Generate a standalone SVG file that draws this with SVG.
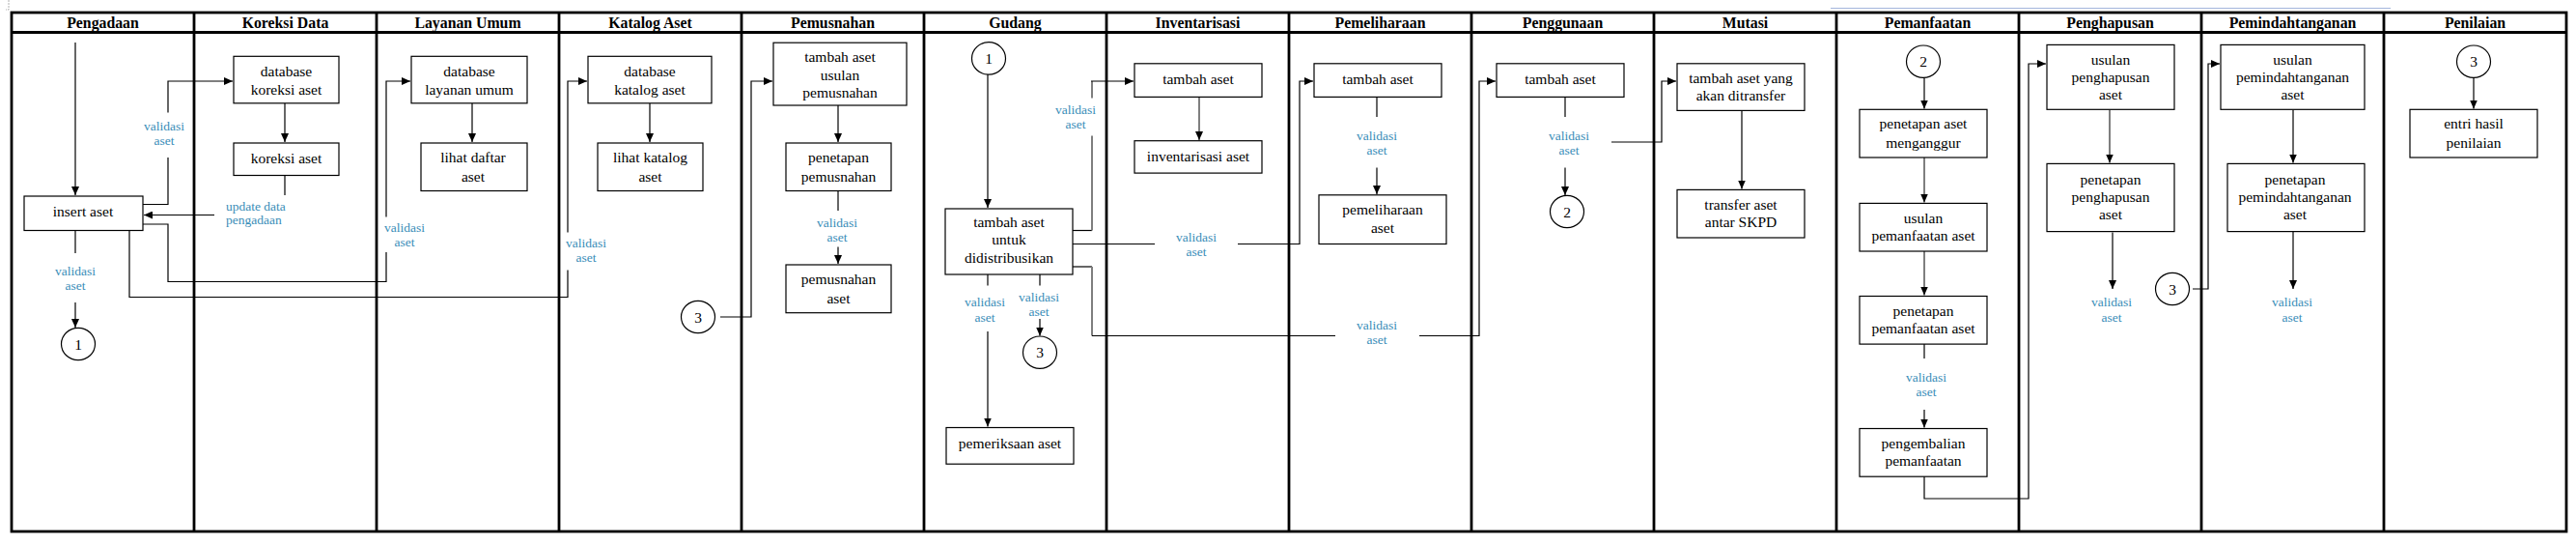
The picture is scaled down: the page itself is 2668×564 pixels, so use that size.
<svg xmlns="http://www.w3.org/2000/svg" width="2668" height="564" viewBox="0 0 2668 564">
<style>
.lane{fill:none;stroke:#000;stroke-width:2.8}
.hd{font-family:"Liberation Serif","Times New Roman",serif;font-weight:bold;font-size:15.8px;text-anchor:middle;fill:#000}
.box{fill:#fff;stroke:#000;stroke-width:1.2}
.t{font-family:"Liberation Serif","Times New Roman",serif;font-size:15.5px;text-anchor:middle;fill:#000}
.lb{font-family:"Liberation Serif","Times New Roman",serif;font-size:13.5px;text-anchor:middle;fill:#3a8db8}
.c{fill:#fff;stroke:#000;stroke-width:1.2}
.ln{fill:none;stroke:#000;stroke-width:1.2}
.gr{fill:none;stroke:#7f7f7f;stroke-width:2}
.ar{marker-end:url(#ah)}
</style>
<defs>
<marker id="ah" markerUnits="userSpaceOnUse" markerWidth="9" markerHeight="8" refX="9" refY="4" orient="auto">
<path d="M0,0 L9,4 L0,8 z" fill="#000"/>
</marker>
</defs>
<rect width="2668" height="564" fill="#fff"/>
<path d="M9 0 V10 H6" fill="none" stroke="#b0b0b0" stroke-width="1" stroke-dasharray="2 1"/>
<path d="M1896 8.5 H2476" stroke="#a4b6dc" stroke-width="1.2" fill="none"/>
<g id="lanes">
<rect class="lane" x="12" y="13" width="2646" height="537"/>
<path class="lane" d="M12 33.5 H2658 M201 13 V550 M390 13 V550 M579 13 V550 M768 13 V550 M957 13 V550 M1146 13 V550 M1335 13 V550 M1524 13 V550 M1713 13 V550 M1902 13 V550 M2091 13 V550 M2280 13 V550 M2469 13 V550"/>
<text class="hd" x="106.5" y="29">Pengadaan</text>
<text class="hd" x="295.5" y="29">Koreksi Data</text>
<text class="hd" x="484.5" y="29">Layanan Umum</text>
<text class="hd" x="673.5" y="29">Katalog Aset</text>
<text class="hd" x="862.5" y="29">Pemusnahan</text>
<text class="hd" x="1051.5" y="29">Gudang</text>
<text class="hd" x="1240.5" y="29">Inventarisasi</text>
<text class="hd" x="1429.5" y="29">Pemeliharaan</text>
<text class="hd" x="1618.5" y="29">Penggunaan</text>
<text class="hd" x="1807.5" y="29">Mutasi</text>
<text class="hd" x="1996.5" y="29">Pemanfaatan</text>
<text class="hd" x="2185.5" y="29">Penghapusan</text>
<text class="hd" x="2374.5" y="29">Pemindahtanganan</text>
<text class="hd" x="2563.5" y="29">Penilaian</text>
</g>
<g id="connectors">
<path class="ln ar" d="M78 44 V202"/>
<path class="ln" d="M148 211.5 H174 V163"/>
<path class="ln ar" d="M174 116.5 V84 H241"/>
<path class="ln ar" d="M295 107 V147"/>
<path class="ln" d="M295 181.5 V202"/>
<path class="ln ar" d="M222 222.5 H149"/>
<path class="ln" d="M148 232 H174 V291.5 H400 V261"/>
<path class="ln ar" d="M400 224.5 V84 H425"/>
<path class="ln" d="M134 238.5 V307.5 H588 V279.5"/>
<path class="ln ar" d="M588 240.5 V84 H608"/>
<path class="ln ar" d="M489 107 V147"/>
<path class="ln ar" d="M673 107 V147"/>
<path class="ln ar" d="M746 328 H778 V84 H800"/>
<path class="ln ar" d="M868 109 V147"/>
<path class="ln" d="M868 197.5 V218"/>
<path class="ln ar" d="M868 255.5 V273"/>
<path class="ln" d="M78 238.5 V262"/>
<path class="ln ar" d="M78 313 V339"/>
<path class="ln ar" d="M1023 77 V215"/>
<path class="ln" d="M1111 238.5 H1131"/>
<path class="gr" d="M1131 238.5 V140.5"/>
<path class="gr" d="M1131 101.5 V84"/>
<path class="ln ar" d="M1130 84 H1174"/>
<path class="ln" d="M1111 252.5 H1196"/>
<path class="ln ar" d="M1282 252.5 H1346 V84 H1360"/>
<path class="ln" d="M1111 276 H1131"/>
<path class="gr" d="M1131 276 V347.5"/>
<path class="ln" d="M1131 347.5 H1383"/>
<path class="ln ar" d="M1470 347.5 H1532 V84 H1549"/>
<path class="ln" d="M1023 284 V295.5"/>
<path class="ln ar" d="M1023 343 V441.5"/>
<path class="ln" d="M1077 284 V295.5"/>
<path class="ln ar" d="M1077 330 V347.5"/>
<path class="gr ar" d="M1242 100.5 V145"/>
<path class="ln" d="M1426 100.5 V121"/>
<path class="ln ar" d="M1426 173.5 V201"/>
<path class="ln" d="M1621 100.5 V121"/>
<path class="ln ar" d="M1621 173.5 V202"/>
<path class="ln ar" d="M1669 147 H1721 V84 H1736"/>
<path class="ln ar" d="M1804 114.5 V195.5"/>
<path class="ln ar" d="M1993 80.5 V112.5"/>
<path class="gr ar" d="M1993 163 V209.5"/>
<path class="gr ar" d="M1993 260 V305.5"/>
<path class="ln" d="M1993 356 V371"/>
<path class="ln ar" d="M1993 424 V442.5"/>
<path class="ln ar" d="M1993 493 V516 H2101 V66 H2119"/>
<path class="gr ar" d="M2185 113.5 V168.5"/>
<path class="ln ar" d="M2188 240.5 V299"/>
<path class="ln ar" d="M2271 299 H2287 V66 H2299"/>
<path class="ln ar" d="M2375 113.5 V168.5"/>
<path class="ln ar" d="M2375 239.5 V299"/>
<path class="ln ar" d="M2562 80.5 V112.5"/>
<text class="lb"><tspan x="170" y="135">validasi</tspan><tspan x="170" y="150">aset</tspan></text>
<text class="lb"><tspan x="78" y="285">validasi</tspan><tspan x="78" y="300">aset</tspan></text>
<text class="lb" style="text-anchor:start"><tspan x="234" y="218">update data</tspan><tspan x="234" y="232">pengadaan</tspan></text>
<text class="lb"><tspan x="419" y="240">validasi</tspan><tspan x="419" y="255">aset</tspan></text>
<text class="lb"><tspan x="607" y="256">validasi</tspan><tspan x="607" y="271">aset</tspan></text>
<text class="lb"><tspan x="867" y="234.5">validasi</tspan><tspan x="867" y="249.5">aset</tspan></text>
<text class="lb"><tspan x="1114" y="118">validasi</tspan><tspan x="1114" y="133">aset</tspan></text>
<text class="lb"><tspan x="1239" y="249.5">validasi</tspan><tspan x="1239" y="264.5">aset</tspan></text>
<text class="lb"><tspan x="1426" y="341">validasi</tspan><tspan x="1426" y="356">aset</tspan></text>
<text class="lb"><tspan x="1020" y="316.5">validasi</tspan><tspan x="1020" y="332.5">aset</tspan></text>
<text class="lb"><tspan x="1076" y="312">validasi</tspan><tspan x="1076" y="327">aset</tspan></text>
<text class="lb"><tspan x="1426" y="145">validasi</tspan><tspan x="1426" y="160">aset</tspan></text>
<text class="lb"><tspan x="1625" y="145">validasi</tspan><tspan x="1625" y="160">aset</tspan></text>
<text class="lb"><tspan x="1995" y="395">validasi</tspan><tspan x="1995" y="410">aset</tspan></text>
<text class="lb"><tspan x="2187" y="316.5">validasi</tspan><tspan x="2187" y="332.5">aset</tspan></text>
<text class="lb"><tspan x="2374" y="316.5">validasi</tspan><tspan x="2374" y="332.5">aset</tspan></text>
</g>
<g id="insert-aset"><rect class="box" x="25" y="203" width="123" height="35.5"/><text class="t" x="86" y="223.5">insert aset</text></g>
<g id="c1-pengadaan"><ellipse class="c" cx="81" cy="356" rx="17.5" ry="16.7"/><text class="t" x="81" y="361.5">1</text></g>
<g id="db-koreksi"><rect class="box" x="242" y="58.3" width="109" height="48.5"/><text class="t"><tspan x="296.5" y="78.5">database</tspan><tspan x="296.5" y="98">koreksi aset</tspan></text></g>
<g id="koreksi-aset"><rect class="box" x="242" y="148" width="109" height="33.5"/><text class="t" x="296.5" y="169">koreksi aset</text></g>
<g id="db-layanan"><rect class="box" x="426" y="58.3" width="120" height="48.5"/><text class="t"><tspan x="486" y="78.5">database</tspan><tspan x="486" y="98">layanan umum</tspan></text></g>
<g id="lihat-daftar"><rect class="box" x="436" y="148" width="110" height="49.5"/><text class="t"><tspan x="490" y="168">lihat daftar</tspan><tspan x="490" y="187.5">aset</tspan></text></g>
<g id="db-katalog"><rect class="box" x="609" y="58.3" width="128" height="48.5"/><text class="t"><tspan x="673" y="78.5">database</tspan><tspan x="673" y="98">katalog aset</tspan></text></g>
<g id="lihat-katalog"><rect class="box" x="619" y="148" width="109" height="49.5"/><text class="t"><tspan x="673.5" y="168">lihat katalog</tspan><tspan x="673.5" y="187.5">aset</tspan></text></g>
<g id="c3-katalog"><ellipse class="c" cx="723" cy="328" rx="17.5" ry="16.7"/><text class="t" x="723" y="333.5">3</text></g>
<g id="usulan-pemusnahan"><rect class="box" x="801" y="44.2" width="138" height="64.8"/><text class="t"><tspan x="870" y="63.5">tambah aset</tspan><tspan x="870" y="82.5">usulan</tspan><tspan x="870" y="101">pemusnahan</tspan></text></g>
<g id="penetapan-pemusnahan"><rect class="box" x="814" y="148" width="109" height="49.5"/><text class="t"><tspan x="868.5" y="168">penetapan</tspan><tspan x="868.5" y="187.5">pemusnahan</tspan></text></g>
<g id="pemusnahan-aset"><rect class="box" x="814" y="274" width="109" height="49.7"/><text class="t"><tspan x="868.5" y="294">pemusnahan</tspan><tspan x="868.5" y="313.5">aset</tspan></text></g>
<g id="c1-gudang"><ellipse class="c" cx="1024" cy="60.4" rx="17.5" ry="16.7"/><text class="t" x="1024" y="66">1</text></g>
<g id="tambah-distribusi"><rect class="box" x="979" y="216" width="132" height="68"/><text class="t"><tspan x="1045" y="235">tambah aset</tspan><tspan x="1045" y="253">untuk</tspan><tspan x="1045" y="271.5">didistribusikan</tspan></text></g>
<g id="pemeriksaan-aset"><rect class="box" x="980" y="442.5" width="132" height="37.7"/><text class="t" x="1046" y="463.5">pemeriksaan aset</text></g>
<g id="c3-gudang"><ellipse class="c" cx="1077" cy="364.7" rx="17.5" ry="16.7"/><text class="t" x="1077" y="370">3</text></g>
<g id="tambah-inventaris"><rect class="box" x="1175" y="65.8" width="132" height="34.6"/><text class="t" x="1241" y="87">tambah aset</text></g>
<g id="inventarisasi-aset"><rect class="box" x="1175" y="145.7" width="132" height="33.4"/><text class="t" x="1241" y="167">inventarisasi aset</text></g>
<g id="tambah-pemeliharaan"><rect class="box" x="1361" y="65.8" width="132" height="34.6"/><text class="t" x="1427" y="87">tambah aset</text></g>
<g id="pemeliharaan-aset"><rect class="box" x="1366" y="201.8" width="132" height="50.7"/><text class="t"><tspan x="1432" y="222">pemeliharaan</tspan><tspan x="1432" y="241.3">aset</tspan></text></g>
<g id="tambah-penggunaan"><rect class="box" x="1550" y="65.8" width="132" height="34.6"/><text class="t" x="1616" y="87">tambah aset</text></g>
<g id="c2-penggunaan"><ellipse class="c" cx="1623" cy="219" rx="17.5" ry="16.7"/><text class="t" x="1623" y="224.5">2</text></g>
<g id="tambah-transfer"><rect class="box" x="1737" y="65.8" width="132" height="48.6"/><text class="t"><tspan x="1803" y="86">tambah aset yang</tspan><tspan x="1803" y="104.3">akan ditransfer</tspan></text></g>
<g id="transfer-skpd"><rect class="box" x="1737" y="196.4" width="132" height="49.6"/><text class="t"><tspan x="1803" y="216.5">transfer aset</tspan><tspan x="1803" y="234.8">antar SKPD</tspan></text></g>
<g id="c2-pemanfaatan"><ellipse class="c" cx="1992" cy="63.7" rx="17.5" ry="16.7"/><text class="t" x="1992" y="69.2">2</text></g>
<g id="aset-menganggur"><rect class="box" x="1926" y="113.3" width="132" height="49.7"/><text class="t"><tspan x="1992" y="133.4">penetapan aset</tspan><tspan x="1992" y="152.8">menganggur</tspan></text></g>
<g id="usulan-pemanfaatan"><rect class="box" x="1926" y="210.4" width="132" height="49.6"/><text class="t"><tspan x="1992" y="230.5">usulan</tspan><tspan x="1992" y="249">pemanfaatan aset</tspan></text></g>
<g id="penetapan-pemanfaatan"><rect class="box" x="1926" y="306.5" width="132" height="49.6"/><text class="t"><tspan x="1992" y="326.6">penetapan</tspan><tspan x="1992" y="345">pemanfaatan aset</tspan></text></g>
<g id="pengembalian"><rect class="box" x="1926" y="443.5" width="132" height="49.7"/><text class="t"><tspan x="1992" y="463.6">pengembalian</tspan><tspan x="1992" y="482">pemanfaatan</tspan></text></g>
<g id="usulan-penghapusan"><rect class="box" x="2120" y="46.4" width="132" height="66.9"/><text class="t"><tspan x="2186" y="66.5">usulan</tspan><tspan x="2186" y="85">penghapusan</tspan><tspan x="2186" y="103.2">aset</tspan></text></g>
<g id="penetapan-penghapusan"><rect class="box" x="2120" y="169.4" width="132" height="70.2"/><text class="t"><tspan x="2186" y="190.6">penetapan</tspan><tspan x="2186" y="209">penghapusan</tspan><tspan x="2186" y="227.3">aset</tspan></text></g>
<g id="c3-penghapusan"><ellipse class="c" cx="2250" cy="299" rx="17.5" ry="16.7"/><text class="t" x="2250" y="304.5">3</text></g>
<g id="usulan-pemindahtanganan"><rect class="box" x="2300" y="46.4" width="149" height="66.9"/><text class="t"><tspan x="2374.5" y="66.5">usulan</tspan><tspan x="2374.5" y="85">pemindahtanganan</tspan><tspan x="2374.5" y="103.2">aset</tspan></text></g>
<g id="penetapan-pemindahtanganan"><rect class="box" x="2307" y="169.4" width="142" height="70.2"/><text class="t"><tspan x="2377" y="190.6">penetapan</tspan><tspan x="2377" y="209">pemindahtanganan</tspan><tspan x="2377" y="227.3">aset</tspan></text></g>
<g id="c3-penilaian"><ellipse class="c" cx="2562" cy="63.7" rx="17.5" ry="16.7"/><text class="t" x="2562" y="69.2">3</text></g>
<g id="entri-penilaian"><rect class="box" x="2496" y="113.3" width="132" height="49.7"/><text class="t"><tspan x="2562" y="133.4">entri hasil</tspan><tspan x="2562" y="152.8">penilaian</tspan></text></g>
</svg>
